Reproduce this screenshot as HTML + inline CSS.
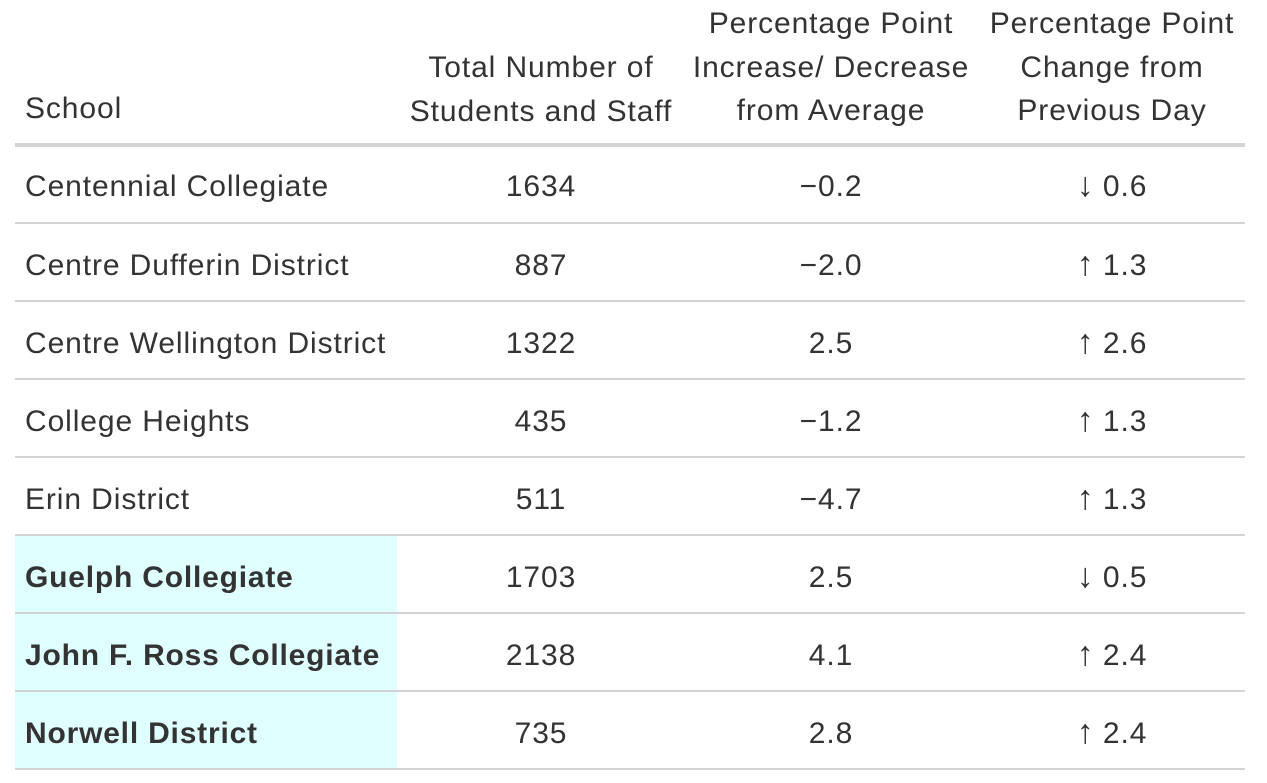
<!DOCTYPE html>
<html><head><style>
body{margin:0;width:1267px;height:783px;background:#fff;font-family:"Liberation Sans",Arial,sans-serif;color:#333;position:relative;overflow:hidden}
.t{position:absolute;font-size:30px;letter-spacing:0.9px;line-height:34px;white-space:nowrap}
.c{transform:translateX(-50%);text-align:center}
.l{position:absolute;left:15px;width:1230px;background:#d3d3d3}
.h{position:absolute;left:15px;width:382px;background:#e0ffff}
b{font-weight:bold;letter-spacing:0.8px}
.a{font-size:34px;letter-spacing:0;line-height:0}
</style></head><body>
<div class="h" style="top:536px;height:234px"></div>
<div class="t" style="left:25px;top:92px">School</div>
<div class="t c" style="left:541px;top:46px;line-height:43.5px">Total Number of<br>Students and Staff</div>
<div class="t c" style="left:831px;top:2px;line-height:43.5px">Percentage Point<br>Increase/ Decrease<br>from Average</div>
<div class="t c" style="left:1112px;top:2px;line-height:43.5px">Percentage Point<br>Change from<br>Previous Day</div>
<div class="l" style="top:143px;height:4px"></div>
<div class="l" style="top:222px;height:2px"></div>
<div class="l" style="top:300px;height:2px"></div>
<div class="l" style="top:378px;height:2px"></div>
<div class="l" style="top:456px;height:2px"></div>
<div class="l" style="top:534px;height:2px"></div>
<div class="l" style="top:612px;height:2px"></div>
<div class="l" style="top:690px;height:2px"></div>
<div class="l" style="top:768px;height:2px"></div>

<div class="t" style="left:25px;top:170px">Centennial Collegiate</div>
<div class="t c" style="left:541px;top:170px">1634</div>
<div class="t c" style="left:831px;top:170px">−0.2</div>
<div class="t c" style="left:1112px;top:170px"><span class="a">↓</span> 0.6</div>

<div class="t" style="left:25px;top:249px">Centre Dufferin District</div>
<div class="t c" style="left:541px;top:249px">887</div>
<div class="t c" style="left:831px;top:249px">−2.0</div>
<div class="t c" style="left:1112px;top:249px"><span class="a">↑</span> 1.3</div>

<div class="t" style="left:25px;top:327px">Centre Wellington District</div>
<div class="t c" style="left:541px;top:327px">1322</div>
<div class="t c" style="left:831px;top:327px">2.5</div>
<div class="t c" style="left:1112px;top:327px"><span class="a">↑</span> 2.6</div>

<div class="t" style="left:25px;top:405px">College Heights</div>
<div class="t c" style="left:541px;top:405px">435</div>
<div class="t c" style="left:831px;top:405px">−1.2</div>
<div class="t c" style="left:1112px;top:405px"><span class="a">↑</span> 1.3</div>

<div class="t" style="left:25px;top:483px">Erin District</div>
<div class="t c" style="left:541px;top:483px">511</div>
<div class="t c" style="left:831px;top:483px">−4.7</div>
<div class="t c" style="left:1112px;top:483px"><span class="a">↑</span> 1.3</div>

<div class="t" style="left:25px;top:561px"><b>Guelph Collegiate</b></div>
<div class="t c" style="left:541px;top:561px">1703</div>
<div class="t c" style="left:831px;top:561px">2.5</div>
<div class="t c" style="left:1112px;top:561px"><span class="a">↓</span> 0.5</div>

<div class="t" style="left:25px;top:639px"><b>John F. Ross Collegiate</b></div>
<div class="t c" style="left:541px;top:639px">2138</div>
<div class="t c" style="left:831px;top:639px">4.1</div>
<div class="t c" style="left:1112px;top:639px"><span class="a">↑</span> 2.4</div>

<div class="t" style="left:25px;top:717px"><b>Norwell District</b></div>
<div class="t c" style="left:541px;top:717px">735</div>
<div class="t c" style="left:831px;top:717px">2.8</div>
<div class="t c" style="left:1112px;top:717px"><span class="a">↑</span> 2.4</div>
</body></html>
